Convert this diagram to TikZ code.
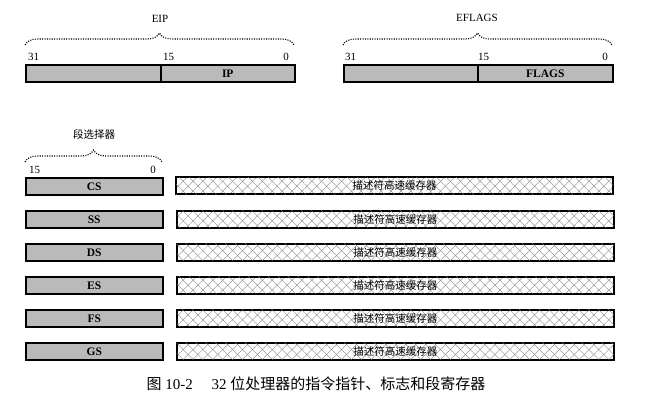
\documentclass[tikz,border=0pt]{standalone}
\usepackage{fontspec}
\setmainfont{Liberation Serif}
\newfontfamily\cjk{Noto Sans CJK SC}
\usetikzlibrary{decorations.pathreplacing,patterns.meta}
\tikzset{
  reg/.style={draw,line width=1.5pt,fill=black!27,inner sep=0pt,
    minimum height=17pt,anchor=north west},
  cache/.style={draw,line width=1.5pt,inner sep=0pt,minimum height=17pt,
    minimum width=437pt,anchor=north west,
    pattern={Lines[angle=45,distance=7pt,line width=0.35pt]},pattern color=black!50,
    postaction={pattern={Lines[angle=-45,distance=7pt,line width=0.35pt]},pattern color=black!50}},
  dotbrace/.style={decorate,decoration={brace,amplitude=12pt},
    line width=1.1pt,dash pattern=on 1.1pt off 1.3pt},
  bitno/.style={inner sep=0pt,font=\fontsize{11}{13}\selectfont},
  regname/.style={font=\bfseries\fontsize{11.5}{13}\selectfont},
  lbl/.style={inner sep=0pt,font=\fontsize{11}{13}\selectfont}
}
\begin{document}
\begin{tikzpicture}[x=1pt,y=-1pt]
    \useasboundingbox (0,0) rectangle (663,404);
    % EIP
    \node[reg,minimum width=135pt] (eiphi) at (25,64) {};
    \node[reg,minimum width=134pt,regname] (ip) at (160,64) {IP};
    \node[bitno,anchor=base west] (eip31) at (28,60.5) {31};
    \node[bitno,anchor=base west] (eip15) at (163,60.5) {15};
    \node[bitno,anchor=base east] (eip0) at (289,60.5) {0};
    \draw[dotbrace] (25,45) -- (294,45);
    \node[lbl] (eip) at (160,19) {EIP};
    % EFLAGS
    \node[reg,minimum width=134pt] (eflagshi) at (343,64) {};
    \node[reg,minimum width=135pt,regname] (flags) at (477,64) {FLAGS};
    \node[bitno,anchor=base west] (efl31) at (345,60.5) {31};
    \node[bitno,anchor=base west] (efl15) at (478,60.5) {15};
    \node[bitno,anchor=base east] (efl0) at (608,60.5) {0};
    \draw[dotbrace] (343,45) -- (612,45);
    \node[lbl] (eflags) at (477,18) {EFLAGS};
    % segment registers
    \node[lbl,font=\cjk\fontsize{10.5}{12}\selectfont] (sel) at (94,134) {段选择器};
    \draw[dotbrace] (25,162) -- (162,162);
    \node[bitno,anchor=base west] (sel15) at (29,173) {15};
    \node[bitno,anchor=base east] (sel0) at (156,173) {0};
    \foreach \seg [count=\i from 0] in {CS,SS,DS,ES,FS,GS} {
        \node[reg,minimum width=137pt,regname] (\seg) at (25,{177+33*\i}) {\seg};
        \node[cache,font=\cjk\fontsize{10.5}{12}\selectfont] (\seg desc) at (176,{177+33*\i}) {描述符高速缓存器};
    }
    \node[font=\fontsize{15}{17}\selectfont] (caption) at (316,384)
        {{\cjk 图} 10-2\quad\ 32 {\cjk 位处理器的指令指针、标志和段寄存器}};
\end{tikzpicture}
\end{document}
